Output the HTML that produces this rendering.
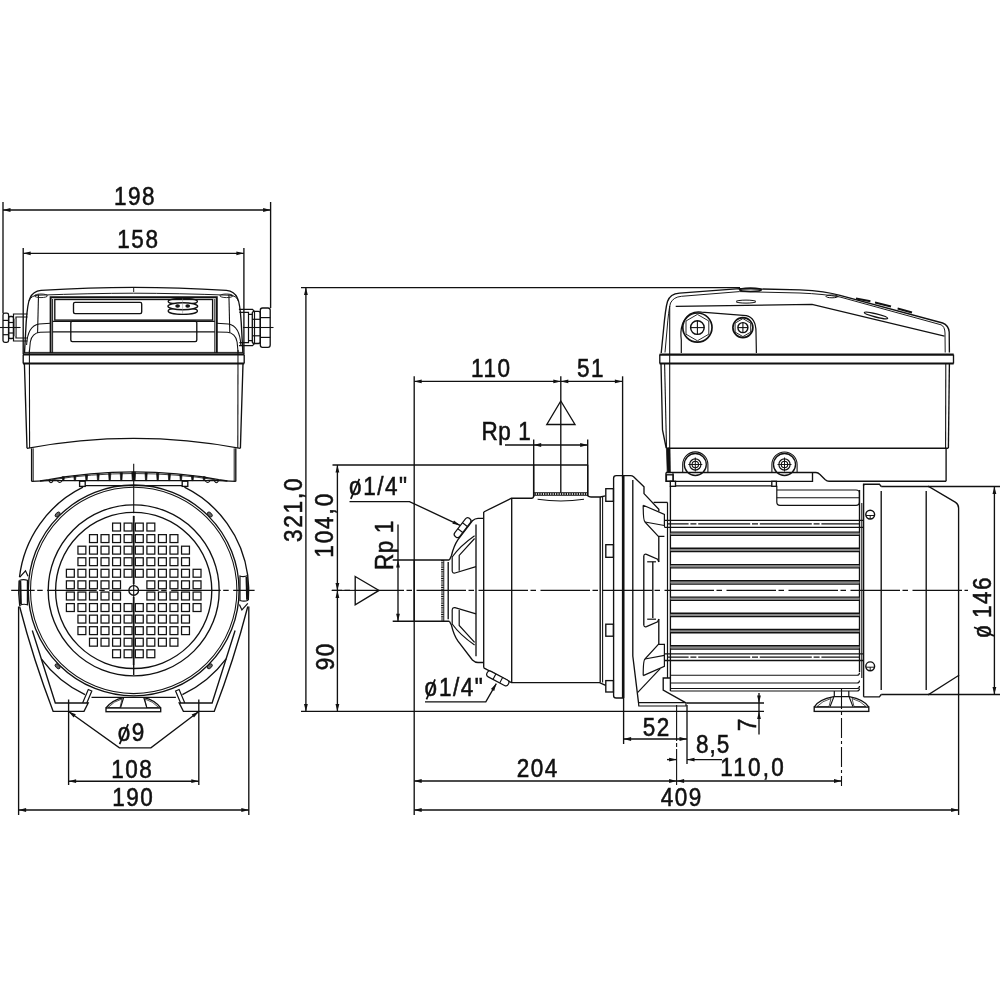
<!DOCTYPE html>
<html><head><meta charset="utf-8"><style>
html,body{margin:0;padding:0;background:#fff;width:1000px;height:1000px;overflow:hidden}
svg{display:block}
text{font-family:"Liberation Sans",sans-serif;fill:#111;stroke:#111;stroke-width:0.55px}
svg{will-change:transform}
</style></head><body>
<svg width="1000" height="1000" viewBox="0 0 1000 1000">
<rect x="0" y="0" width="1000" height="1000" fill="#fff"/>
<g fill="none" stroke="#111" stroke-width="1.35" stroke-linecap="butt">
<line x1="3.0" y1="202.0" x2="3.0" y2="313.2"/>
<line x1="270.6" y1="202.0" x2="270.6" y2="308.0"/>
<line x1="3.0" y1="210.0" x2="270.6" y2="210.0"/>
<path d="M3.0,210.0 L10.5,208.1 L10.5,211.9 Z" fill="#111" stroke="none"/>
<path d="M270.6,210.0 L263.1,211.9 L263.1,208.1 Z" fill="#111" stroke="none"/>
<text x="0.85" y="0" font-size="25" text-anchor="middle" letter-spacing="1.7" transform="translate(134.2 205.2) scale(0.9 1)">198</text>
<line x1="23.2" y1="248.0" x2="23.2" y2="354.0"/>
<line x1="243.9" y1="248.0" x2="243.9" y2="354.0"/>
<line x1="23.2" y1="253.3" x2="243.9" y2="253.3"/>
<path d="M23.2,253.3 L30.7,251.4 L30.7,255.2 Z" fill="#111" stroke="none"/>
<path d="M243.9,253.3 L236.4,255.2 L236.4,251.4 Z" fill="#111" stroke="none"/>
<text x="0.85" y="0" font-size="25" text-anchor="middle" letter-spacing="1.7" transform="translate(137.6 248.0) scale(0.9 1)">158</text>
<path d="M24.5,353 L26.2,322 Q27.5,303 30,298 Q33,291 41,290.3 Q90,287.4 133.7,287.3 Q178,287.4 226.4,290.3 Q234.4,291 237.4,298 Q240,303 241.2,322 L242.9,353"/>
<path d="M29,301 Q31,295.5 38,295.2 Q90,293.3 133.7,293.2 Q178,293.3 229.4,295.2 Q236.4,295.5 238.4,301" stroke-width="0.96"/>
<line x1="133.7" y1="287.3" x2="133.7" y2="292.0" stroke-width="0.96"/>
<ellipse cx="41" cy="295.8" rx="6.5" ry="1.8" stroke-width="0.9"/>
<ellipse cx="226.4" cy="295.8" rx="6.5" ry="1.8" stroke-width="0.9"/>
<path d="M50.6,353 L50.6,297.3 L216.8,297.3 L216.8,353" stroke-width="1.92"/>
<line x1="52.6" y1="299.0" x2="52.6" y2="353.0" stroke-width="0.96"/>
<line x1="214.8" y1="299.0" x2="214.8" y2="353.0" stroke-width="0.96"/>
<rect x="54.8" y="299.5" width="157.8" height="20.6"/>
<rect x="73.5" y="302.4" width="68.2" height="11.2" rx="1.5"/>
<rect x="70.8" y="321.2" width="126.0" height="20.4" rx="1.5"/>
<path d="M38.5,294.5 L37.6,333" stroke-width="1.08"/>
<path d="M26.6,345 Q27.5,326 39,324 L50.6,323.2" stroke-width="1.08"/>
<path d="M29.3,352.5 L30.3,342 Q32,333 40,332.3 L50.6,332" stroke-width="1.08"/>
<line x1="52.6" y1="331.8" x2="214.8" y2="331.8" stroke-width="1.20"/>
<line x1="52.6" y1="321.3" x2="214.8" y2="321.3" stroke-width="1.20"/>
<path d="M228.9,294.5 L229.8,333" stroke-width="1.08"/>
<path d="M240.8,345 Q239.9,326 228.4,324 L216.8,323.2" stroke-width="1.08"/>
<path d="M238.1,352.5 L237.1,342 Q235.4,333 227.4,332.3 L216.8,332" stroke-width="1.08"/>
<ellipse cx="182.8" cy="301.4" rx="14.6" ry="2.9" stroke-width="1.3"/>
<ellipse cx="182.8" cy="311" rx="14.6" ry="3.3" stroke-width="1.3"/>
<ellipse cx="182.8" cy="306.2" rx="14.8" ry="3.5" stroke-width="1.5" fill="#fff"/>
<line x1="182.6" y1="298.5" x2="182.6" y2="314" stroke-width="0.5" stroke="#888"/>
<ellipse cx="177.6" cy="306" rx="1.7" ry="1.1" fill="#111"/>
<ellipse cx="187.7" cy="306" rx="1.7" ry="1.1" fill="#111"/>
<path d="M27.5,314 L13.5,314 L13.5,341 L27.5,341" stroke-width="1.20"/>
<path d="M27.5,317 L16,317 L16,338 L27.5,338" stroke-width="1.20"/>
<rect x="13.6" y="319" width="2.3" height="17" fill="#999" stroke="none"/>
<rect x="3.0" y="313.2" width="5.6" height="29.2" rx="1.8" stroke-width="1.32"/>
<line x1="3.0" y1="320.4" x2="8.6" y2="320.4" stroke-width="1.20"/>
<line x1="3.0" y1="334.7" x2="8.6" y2="334.7" stroke-width="1.20"/>
<rect x="8.6" y="316.5" width="4.9" height="22.0" rx="1.6" stroke-width="1.32"/>
<line x1="8.6" y1="322.5" x2="13.5" y2="322.5" stroke-width="1.20"/>
<line x1="8.6" y1="333.0" x2="13.5" y2="333.0" stroke-width="1.20"/>
<path d="M238.9,309.4 L252.5,309.4 L254.5,311.5 L254.5,343.6 L252.5,345.7 L238.9,345.7" stroke-width="1.20"/>
<path d="M239.4,312.4 L248.5,312.4 L248.5,342.6 L239.4,342.6" stroke-width="1.20"/>
<path d="M248.5,314.3 L252.3,314.3 M248.5,340.7 L252.3,340.7" stroke-width="1.20"/>
<rect x="252.3" y="311.3" width="8.0" height="32.2" rx="2.0" stroke-width="1.32"/>
<line x1="252.3" y1="319.3" x2="260.3" y2="319.3" stroke-width="1.20"/>
<line x1="252.3" y1="335.8" x2="260.3" y2="335.8" stroke-width="1.20"/>
<rect x="260.3" y="308.0" width="9.9" height="39.3" rx="2.2" stroke-width="1.32"/>
<line x1="260.3" y1="317.6" x2="270.2" y2="317.6" stroke-width="1.20"/>
<line x1="260.3" y1="337.4" x2="270.2" y2="337.4" stroke-width="1.20"/>
<line x1="0.0" y1="327.5" x2="20.6" y2="327.5" stroke-width="1.08"/>
<line x1="243.0" y1="327.5" x2="273.5" y2="327.5" stroke-width="1.08"/>
<line x1="23.0" y1="354.4" x2="244.2" y2="354.4" stroke-width="2.28"/>
<line x1="24.5" y1="352.4" x2="243.0" y2="352.4" stroke-width="0.96"/>
<line x1="23.0" y1="363.6" x2="244.2" y2="363.6" stroke-width="2.04"/>
<line x1="23.2" y1="354.4" x2="23.2" y2="363.6"/>
<line x1="244.2" y1="354.4" x2="244.2" y2="363.6"/>
<path d="M24.4,363.6 L27,448.3"/>
<path d="M29.4,350 L29.6,448" stroke-width="1.08"/>
<path d="M243,363.6 L240.4,448.3"/>
<path d="M238,350 L237.8,448" stroke-width="1.08"/>
<path d="M27,448.3 Q133.7,428.4 240.4,448.3"/>
<line x1="31.6" y1="448.3" x2="31.6" y2="481.4"/>
<line x1="33.2" y1="448.3" x2="33.2" y2="481.4" stroke-width="0.96"/>
<line x1="235.8" y1="448.3" x2="235.8" y2="481.4"/>
<line x1="234.2" y1="448.3" x2="234.2" y2="481.4" stroke-width="0.96"/>
<path d="M31.6,481.3 L48.7,480.6 L218.7,480.6 L235.8,481.3"/>
<path d="M40,481 L48.7,479.6 Q90,472 133.7,471.9 Q177.4,472 218.7,479.6 L227.4,481"/>
<path d="M52,479.8 Q90,473.6 133.7,473.5 Q177.4,473.6 215.4,479.8" stroke-width="0.84"/>
<path d="M133.4,472.2 L135.6,472.2 L135.1,480.6 L133.9,480.6 Z" stroke-width="0.72" fill="#111"/>
<path d="M131.8,472.2 L134.0,472.2 L133.5,480.6 L132.3,480.6 Z" stroke-width="0.72" fill="#111"/>
<path d="M145.0,472.7 L147.2,472.7 L146.7,480.6 L145.5,480.6 Z" stroke-width="0.72" fill="#111"/>
<path d="M120.2,472.7 L122.4,472.7 L121.9,480.6 L120.7,480.6 Z" stroke-width="0.72" fill="#111"/>
<path d="M156.6,473.3 L158.8,473.3 L158.3,480.6 L157.1,480.6 Z" stroke-width="0.72" fill="#111"/>
<path d="M108.6,473.3 L110.8,473.3 L110.3,480.6 L109.1,480.6 Z" stroke-width="0.72" fill="#111"/>
<path d="M168.2,474.1 L170.4,474.1 L169.9,480.6 L168.7,480.6 Z" stroke-width="0.72" fill="#111"/>
<path d="M97.0,474.1 L99.2,474.1 L98.7,480.6 L97.5,480.6 Z" stroke-width="0.72" fill="#111"/>
<path d="M179.8,474.9 L182.0,474.9 L181.5,480.6 L180.3,480.6 Z" stroke-width="0.72" fill="#111"/>
<path d="M85.4,474.9 L87.6,474.9 L87.1,480.6 L85.9,480.6 Z" stroke-width="0.72" fill="#111"/>
<path d="M191.4,475.8 L193.6,475.8 L193.1,480.6 L191.9,480.6 Z" stroke-width="0.72" fill="#111"/>
<path d="M73.8,475.8 L76.0,475.8 L75.5,480.6 L74.3,480.6 Z" stroke-width="0.72" fill="#111"/>
<path d="M203.0,476.7 L205.2,476.7 L204.7,480.6 L203.5,480.6 Z" stroke-width="0.72" fill="#111"/>
<path d="M62.2,476.7 L64.4,476.7 L63.9,480.6 L62.7,480.6 Z" stroke-width="0.72" fill="#111"/>
<path d="M49,481 Q51,484.5 53,481" stroke-width="1.08"/>
<path d="M218.4,481 Q216.4,484.5 214.4,481" stroke-width="1.08"/>
<path d="M57.5,481 Q59.7,484 62,481" stroke-width="1.08"/>
<path d="M209.9,481 Q207.7,484 205.4,481" stroke-width="1.08"/>
<rect x="79.6" y="481.2" width="5.6" height="5.2"/>
<rect x="182.2" y="481.2" width="5.6" height="5.2"/>
<line x1="85.2" y1="485.6" x2="182.2" y2="485.6"/>
<circle cx="133.7" cy="590.4" r="105.4"/>
<circle cx="133.7" cy="590.4" r="103.2" stroke-width="1.08"/>
<circle cx="133.7" cy="590.4" r="85.5"/>
<circle cx="133.7" cy="590.4" r="78.1"/>
<circle cx="133.7" cy="590.4" r="4.8"/>
<path d="M83.0,487.2 A115,115 0 0 0 19.5,577.0"/>
<path d="M41.3,658.9 A115,115 0 0 0 85.0,694.6"/>
<path d="M184.4,487.2 A115,115 0 0 1 247.7,575.2"/>
<path d="M226.1,658.9 A115,115 0 0 1 182.4,694.6"/>
<path d="M19.1,580.5 A115,115 0 0 0 19.7,605.5"/>
<path d="M247.7,575.3 A115,115 0 0 1 248.3,600.3"/>
<g transform="rotate(0 133.7 590.4)">
<path d="M19.3,580.5 Q23.3,578.8 27.4,580.3 L27.4,604.8 Q23.3,603.4 19.3,605.6" stroke-width="1.20"/>
<path d="M19.6,577.4 L25.5,570.8 L28,576.2" stroke-width="1.20"/>
<line x1="20.2" y1="581.0" x2="20.8" y2="604.0" stroke-width="2.16"/>
</g>
<g transform="rotate(180 133.7 590.4)">
<path d="M19.3,580.5 Q23.3,578.8 27.4,580.3 L27.4,604.8 Q23.3,603.4 19.3,605.6" stroke-width="1.20"/>
<path d="M19.6,577.4 L25.5,570.8 L28,576.2" stroke-width="1.20"/>
<line x1="20.2" y1="581.0" x2="20.8" y2="604.0" stroke-width="2.16"/>
</g>
<path d="M19.6,606.5 Q33.4,659.9 53.2,711.4 L84.0,711.4 L88.2,703 L55.3,703 L32.3,630.5"/>
<path d="M82.6,703.0 L88.3,689.5 L91.8,691.0 L86.8,703.0" stroke-width="1.20"/>
<path d="M247.8,606.5 Q234.0,659.9 214.2,711.4 L183.4,711.4 L179.2,703 L212.1,703 L235.1,630.5"/>
<path d="M184.8,703.0 L179.1,689.5 L175.6,691.0 L180.6,703.0" stroke-width="1.20"/>
<line x1="91.5" y1="697.4" x2="175.9" y2="697.4"/>
<rect x="106.0" y="708.0" width="54.7" height="3.7"/>
<path d="M106,708 Q112,700 123.5,697.6 M160.7,708 Q155,700 143.9,697.6"/>
<path d="M123.6,697.6 L120.5,707.8 M143.8,697.6 L146.9,707.8" stroke-width="1.20"/>
<path d="M108,707.5 Q114,701 122,699 L120,707.5 Z M158.7,707.5 Q152.7,701 144.7,699 L146.7,707.5 Z" stroke-width="0.72"/>
<ellipse cx="57.6" cy="514.5" rx="3.0" ry="1.8" fill="#666" stroke-width="0.9" transform="rotate(-45 57.6 514.5)"/>
<ellipse cx="209.8" cy="514.5" rx="3.0" ry="1.8" fill="#666" stroke-width="0.9" transform="rotate(45 209.8 514.5)"/>
<ellipse cx="57.6" cy="666.3" rx="3.0" ry="1.8" fill="#666" stroke-width="0.9" transform="rotate(45 57.6 666.3)"/>
<ellipse cx="209.8" cy="666.3" rx="3.0" ry="1.8" fill="#666" stroke-width="0.9" transform="rotate(-45 209.8 666.3)"/>
<rect x="112.60" y="523.10" width="7.90" height="7.90" stroke-width="1.25"/>
<rect x="124.15" y="523.10" width="7.90" height="7.90" stroke-width="1.25"/>
<rect x="135.35" y="523.10" width="7.90" height="7.90" stroke-width="1.25"/>
<rect x="146.90" y="523.10" width="7.90" height="7.90" stroke-width="1.25"/>
<rect x="89.50" y="534.65" width="7.90" height="7.90" stroke-width="1.25"/>
<rect x="101.05" y="534.65" width="7.90" height="7.90" stroke-width="1.25"/>
<rect x="112.60" y="534.65" width="7.90" height="7.90" stroke-width="1.25"/>
<rect x="124.15" y="534.65" width="7.90" height="7.90" stroke-width="1.25"/>
<rect x="135.35" y="534.65" width="7.90" height="7.90" stroke-width="1.25"/>
<rect x="146.90" y="534.65" width="7.90" height="7.90" stroke-width="1.25"/>
<rect x="158.45" y="534.65" width="7.90" height="7.90" stroke-width="1.25"/>
<rect x="170.00" y="534.65" width="7.90" height="7.90" stroke-width="1.25"/>
<rect x="77.95" y="546.20" width="7.90" height="7.90" stroke-width="1.25"/>
<rect x="89.50" y="546.20" width="7.90" height="7.90" stroke-width="1.25"/>
<rect x="101.05" y="546.20" width="7.90" height="7.90" stroke-width="1.25"/>
<rect x="112.60" y="546.20" width="7.90" height="7.90" stroke-width="1.25"/>
<rect x="124.15" y="546.20" width="7.90" height="7.90" stroke-width="1.25"/>
<rect x="135.35" y="546.20" width="7.90" height="7.90" stroke-width="1.25"/>
<rect x="146.90" y="546.20" width="7.90" height="7.90" stroke-width="1.25"/>
<rect x="158.45" y="546.20" width="7.90" height="7.90" stroke-width="1.25"/>
<rect x="170.00" y="546.20" width="7.90" height="7.90" stroke-width="1.25"/>
<rect x="181.55" y="546.20" width="7.90" height="7.90" stroke-width="1.25"/>
<rect x="77.95" y="557.75" width="7.90" height="7.90" stroke-width="1.25"/>
<rect x="89.50" y="557.75" width="7.90" height="7.90" stroke-width="1.25"/>
<rect x="101.05" y="557.75" width="7.90" height="7.90" stroke-width="1.25"/>
<rect x="112.60" y="557.75" width="7.90" height="7.90" stroke-width="1.25"/>
<rect x="124.15" y="557.75" width="7.90" height="7.90" stroke-width="1.25"/>
<rect x="135.35" y="557.75" width="7.90" height="7.90" stroke-width="1.25"/>
<rect x="146.90" y="557.75" width="7.90" height="7.90" stroke-width="1.25"/>
<rect x="158.45" y="557.75" width="7.90" height="7.90" stroke-width="1.25"/>
<rect x="170.00" y="557.75" width="7.90" height="7.90" stroke-width="1.25"/>
<rect x="181.55" y="557.75" width="7.90" height="7.90" stroke-width="1.25"/>
<rect x="66.40" y="569.30" width="7.90" height="7.90" stroke-width="1.25"/>
<rect x="77.95" y="569.30" width="7.90" height="7.90" stroke-width="1.25"/>
<rect x="89.50" y="569.30" width="7.90" height="7.90" stroke-width="1.25"/>
<rect x="101.05" y="569.30" width="7.90" height="7.90" stroke-width="1.25"/>
<rect x="112.60" y="569.30" width="7.90" height="7.90" stroke-width="1.25"/>
<rect x="124.15" y="569.30" width="7.90" height="7.90" stroke-width="1.25"/>
<rect x="135.35" y="569.30" width="7.90" height="7.90" stroke-width="1.25"/>
<rect x="146.90" y="569.30" width="7.90" height="7.90" stroke-width="1.25"/>
<rect x="158.45" y="569.30" width="7.90" height="7.90" stroke-width="1.25"/>
<rect x="170.00" y="569.30" width="7.90" height="7.90" stroke-width="1.25"/>
<rect x="181.55" y="569.30" width="7.90" height="7.90" stroke-width="1.25"/>
<rect x="193.10" y="569.30" width="7.90" height="7.90" stroke-width="1.25"/>
<rect x="66.40" y="580.85" width="7.90" height="7.90" stroke-width="1.25"/>
<rect x="77.95" y="580.85" width="7.90" height="7.90" stroke-width="1.25"/>
<rect x="89.50" y="580.85" width="7.90" height="7.90" stroke-width="1.25"/>
<rect x="101.05" y="580.85" width="7.90" height="7.90" stroke-width="1.25"/>
<rect x="112.60" y="580.85" width="7.90" height="7.90" stroke-width="1.25"/>
<rect x="146.90" y="580.85" width="7.90" height="7.90" stroke-width="1.25"/>
<rect x="158.45" y="580.85" width="7.90" height="7.90" stroke-width="1.25"/>
<rect x="170.00" y="580.85" width="7.90" height="7.90" stroke-width="1.25"/>
<rect x="181.55" y="580.85" width="7.90" height="7.90" stroke-width="1.25"/>
<rect x="193.10" y="580.85" width="7.90" height="7.90" stroke-width="1.25"/>
<rect x="66.40" y="592.05" width="7.90" height="7.90" stroke-width="1.25"/>
<rect x="77.95" y="592.05" width="7.90" height="7.90" stroke-width="1.25"/>
<rect x="89.50" y="592.05" width="7.90" height="7.90" stroke-width="1.25"/>
<rect x="101.05" y="592.05" width="7.90" height="7.90" stroke-width="1.25"/>
<rect x="112.60" y="592.05" width="7.90" height="7.90" stroke-width="1.25"/>
<rect x="146.90" y="592.05" width="7.90" height="7.90" stroke-width="1.25"/>
<rect x="158.45" y="592.05" width="7.90" height="7.90" stroke-width="1.25"/>
<rect x="170.00" y="592.05" width="7.90" height="7.90" stroke-width="1.25"/>
<rect x="181.55" y="592.05" width="7.90" height="7.90" stroke-width="1.25"/>
<rect x="193.10" y="592.05" width="7.90" height="7.90" stroke-width="1.25"/>
<rect x="66.40" y="603.60" width="7.90" height="7.90" stroke-width="1.25"/>
<rect x="77.95" y="603.60" width="7.90" height="7.90" stroke-width="1.25"/>
<rect x="89.50" y="603.60" width="7.90" height="7.90" stroke-width="1.25"/>
<rect x="101.05" y="603.60" width="7.90" height="7.90" stroke-width="1.25"/>
<rect x="112.60" y="603.60" width="7.90" height="7.90" stroke-width="1.25"/>
<rect x="124.15" y="603.60" width="7.90" height="7.90" stroke-width="1.25"/>
<rect x="135.35" y="603.60" width="7.90" height="7.90" stroke-width="1.25"/>
<rect x="146.90" y="603.60" width="7.90" height="7.90" stroke-width="1.25"/>
<rect x="158.45" y="603.60" width="7.90" height="7.90" stroke-width="1.25"/>
<rect x="170.00" y="603.60" width="7.90" height="7.90" stroke-width="1.25"/>
<rect x="181.55" y="603.60" width="7.90" height="7.90" stroke-width="1.25"/>
<rect x="193.10" y="603.60" width="7.90" height="7.90" stroke-width="1.25"/>
<rect x="77.95" y="615.15" width="7.90" height="7.90" stroke-width="1.25"/>
<rect x="89.50" y="615.15" width="7.90" height="7.90" stroke-width="1.25"/>
<rect x="101.05" y="615.15" width="7.90" height="7.90" stroke-width="1.25"/>
<rect x="112.60" y="615.15" width="7.90" height="7.90" stroke-width="1.25"/>
<rect x="124.15" y="615.15" width="7.90" height="7.90" stroke-width="1.25"/>
<rect x="135.35" y="615.15" width="7.90" height="7.90" stroke-width="1.25"/>
<rect x="146.90" y="615.15" width="7.90" height="7.90" stroke-width="1.25"/>
<rect x="158.45" y="615.15" width="7.90" height="7.90" stroke-width="1.25"/>
<rect x="170.00" y="615.15" width="7.90" height="7.90" stroke-width="1.25"/>
<rect x="181.55" y="615.15" width="7.90" height="7.90" stroke-width="1.25"/>
<rect x="77.95" y="626.70" width="7.90" height="7.90" stroke-width="1.25"/>
<rect x="89.50" y="626.70" width="7.90" height="7.90" stroke-width="1.25"/>
<rect x="101.05" y="626.70" width="7.90" height="7.90" stroke-width="1.25"/>
<rect x="112.60" y="626.70" width="7.90" height="7.90" stroke-width="1.25"/>
<rect x="124.15" y="626.70" width="7.90" height="7.90" stroke-width="1.25"/>
<rect x="135.35" y="626.70" width="7.90" height="7.90" stroke-width="1.25"/>
<rect x="146.90" y="626.70" width="7.90" height="7.90" stroke-width="1.25"/>
<rect x="158.45" y="626.70" width="7.90" height="7.90" stroke-width="1.25"/>
<rect x="170.00" y="626.70" width="7.90" height="7.90" stroke-width="1.25"/>
<rect x="181.55" y="626.70" width="7.90" height="7.90" stroke-width="1.25"/>
<rect x="89.50" y="638.25" width="7.90" height="7.90" stroke-width="1.25"/>
<rect x="101.05" y="638.25" width="7.90" height="7.90" stroke-width="1.25"/>
<rect x="112.60" y="638.25" width="7.90" height="7.90" stroke-width="1.25"/>
<rect x="124.15" y="638.25" width="7.90" height="7.90" stroke-width="1.25"/>
<rect x="135.35" y="638.25" width="7.90" height="7.90" stroke-width="1.25"/>
<rect x="146.90" y="638.25" width="7.90" height="7.90" stroke-width="1.25"/>
<rect x="158.45" y="638.25" width="7.90" height="7.90" stroke-width="1.25"/>
<rect x="170.00" y="638.25" width="7.90" height="7.90" stroke-width="1.25"/>
<rect x="112.60" y="649.80" width="7.90" height="7.90" stroke-width="1.25"/>
<rect x="124.15" y="649.80" width="7.90" height="7.90" stroke-width="1.25"/>
<rect x="135.35" y="649.80" width="7.90" height="7.90" stroke-width="1.25"/>
<rect x="146.90" y="649.80" width="7.90" height="7.90" stroke-width="1.25"/>
<line x1="11.2" y1="590.4" x2="254.6" y2="590.4" stroke-width="1.1" stroke-dasharray="49.5 2.5 5.5 4.5" stroke-dashoffset="26"/>
<line x1="133.7" y1="463.7" x2="133.7" y2="522.0" stroke-width="1.1" stroke-dasharray="49.5 2.5 5.5 4.5" stroke-dashoffset="0"/>
<line x1="133.7" y1="516.0" x2="133.7" y2="584.0" stroke-width="1.80"/>
<line x1="133.7" y1="584.0" x2="133.7" y2="597.0" stroke-width="1.08"/>
<line x1="133.7" y1="597.0" x2="133.7" y2="665.0" stroke-width="1.80"/>
<line x1="133.7" y1="665.0" x2="133.7" y2="675.0"/>
<line x1="18.6" y1="606.5" x2="18.6" y2="815.0"/>
<line x1="248.8" y1="606.5" x2="248.8" y2="815.0"/>
<line x1="18.6" y1="810.0" x2="248.8" y2="810.0"/>
<path d="M18.6,810.0 L26.1,808.1 L26.1,811.9 Z" fill="#111" stroke="none"/>
<path d="M248.8,810.0 L241.3,811.9 L241.3,808.1 Z" fill="#111" stroke="none"/>
<text x="0.85" y="0" font-size="25" text-anchor="middle" letter-spacing="1.7" transform="translate(132.5 806.4) scale(0.9 1)">190</text>
<line x1="68.6" y1="699.5" x2="68.6" y2="785.0"/>
<line x1="198.8" y1="699.5" x2="198.8" y2="785.0"/>
<line x1="68.6" y1="781.2" x2="198.8" y2="781.2"/>
<path d="M68.6,781.2 L76.1,779.3 L76.1,783.1 Z" fill="#111" stroke="none"/>
<path d="M198.8,781.2 L191.3,783.1 L191.3,779.3 Z" fill="#111" stroke="none"/>
<text x="0.85" y="0" font-size="25" text-anchor="middle" letter-spacing="1.7" transform="translate(131.5 777.8) scale(0.9 1)">108</text>
<path d="M68.6,711.5 L119.4,747.8 L150.9,747.8 L198.8,711.5"/>
<path d="M68.6,711.5 L75.8,714.3 L73.6,717.4 Z" fill="#111" stroke="none"/>
<path d="M198.8,711.5 L194.0,717.5 L191.7,714.5 Z" fill="#111" stroke="none"/>
<g transform="translate(117.7 740.8)"><text x="0" y="0" font-size="25" transform="scale(0.9 1)">o</text><text x="0" y="0" font-size="25" letter-spacing="1.7" transform="translate(14.1 0) scale(0.9 1)">9</text><line x1="1.9" y1="3.4" x2="10.5" y2="-16.6" stroke-width="1.7"/></g>
<line x1="301.0" y1="287.6" x2="740.0" y2="287.6"/>
<line x1="301.0" y1="711.4" x2="764.0" y2="711.4"/>
<line x1="305.9" y1="287.6" x2="305.9" y2="711.4"/>
<path d="M305.9,287.6 L307.8,295.1 L304.0,295.1 Z" fill="#111" stroke="none"/>
<path d="M305.9,711.4 L304.0,703.9 L307.8,703.9 Z" fill="#111" stroke="none"/>
<text x="1.00" y="0" font-size="25" text-anchor="middle" letter-spacing="2.0" transform="translate(302.4 510.3) rotate(-90) scale(0.9 1)">321,0</text>
<line x1="332.5" y1="465.0" x2="587.7" y2="465.0"/>
<line x1="337.4" y1="465.0" x2="337.4" y2="590.4"/>
<path d="M337.4,465.0 L339.3,472.5 L335.5,472.5 Z" fill="#111" stroke="none"/>
<path d="M337.4,590.4 L335.5,582.9 L339.3,582.9 Z" fill="#111" stroke="none"/>
<line x1="337.4" y1="590.4" x2="337.4" y2="711.4"/>
<path d="M337.4,590.4 L339.3,597.9 L335.5,597.9 Z" fill="#111" stroke="none"/>
<path d="M337.4,711.4 L335.5,703.9 L339.3,703.9 Z" fill="#111" stroke="none"/>
<text x="1.07" y="0" font-size="25" text-anchor="middle" letter-spacing="2.15" transform="translate(333.2 525.8) rotate(-90) scale(0.9 1)">104,0</text>
<text x="0.85" y="0" font-size="25" text-anchor="middle" letter-spacing="1.7" transform="translate(333.6 657.0) rotate(-90) scale(0.9 1)">90</text>
<line x1="331.8" y1="590.4" x2="968.0" y2="590.4" stroke-width="1.1" stroke-dasharray="49.5 2.5 5.5 4.5" stroke-dashoffset="39.3"/>
<line x1="331.8" y1="590.4" x2="355.0" y2="590.4" stroke-width="1.10"/>
<path d="M355.2,576.5 L379.0,590.4 L355.2,604.8 Z"/>
<line x1="392.7" y1="560.0" x2="449.4" y2="560.0"/>
<line x1="392.7" y1="621.2" x2="449.4" y2="621.2"/>
<line x1="398.0" y1="524.5" x2="398.0" y2="621.2"/>
<path d="M398.0,560.0 L399.9,567.5 L396.1,567.5 Z" fill="#111" stroke="none"/>
<path d="M398.0,621.2 L396.1,613.7 L399.9,613.7 Z" fill="#111" stroke="none"/>
<text x="0.33" y="0" font-size="25" text-anchor="middle" letter-spacing="0.65" transform="translate(393.4 545.5) rotate(-90) scale(0.9 1)">Rp 1</text>
<line x1="414.2" y1="376.3" x2="414.2" y2="815.0"/>
<line x1="414.2" y1="381.4" x2="560.8" y2="381.4"/>
<path d="M414.2,381.4 L421.7,379.5 L421.7,383.3 Z" fill="#111" stroke="none"/>
<path d="M560.8,381.4 L553.3,383.3 L553.3,379.5 Z" fill="#111" stroke="none"/>
<line x1="560.8" y1="381.4" x2="622.4" y2="381.4"/>
<path d="M560.8,381.4 L568.3,379.5 L568.3,383.3 Z" fill="#111" stroke="none"/>
<path d="M622.4,381.4 L614.9,383.3 L614.9,379.5 Z" fill="#111" stroke="none"/>
<text x="0.85" y="0" font-size="25" text-anchor="middle" letter-spacing="1.7" transform="translate(490.5 377.0) scale(0.9 1)">110</text>
<text x="0.85" y="0" font-size="25" text-anchor="middle" letter-spacing="1.7" transform="translate(590.2 377.0) scale(0.9 1)">51</text>
<line x1="560.8" y1="376.3" x2="560.8" y2="492.7"/>
<line x1="622.6" y1="376.3" x2="622.6" y2="478.0"/>
<path d="M560.8,401.0 L575.0,424.5 L546.8,424.5 Z"/>
<line x1="505.0" y1="445.0" x2="587.7" y2="445.0"/>
<path d="M533.7,445.0 L541.2,443.1 L541.2,446.9 Z" fill="#111" stroke="none"/>
<path d="M587.7,445.0 L580.2,446.9 L580.2,443.1 Z" fill="#111" stroke="none"/>
<line x1="533.7" y1="439.6" x2="533.7" y2="497.0"/>
<line x1="587.7" y1="439.6" x2="587.7" y2="496.0"/>
<text x="0.00" y="0" font-size="25" text-anchor="start" letter-spacing="0.65" transform="translate(481.5 439.6) scale(0.9 1)">Rp 1</text>
<g transform="translate(348.9 495.4)"><text x="0" y="0" font-size="25" transform="scale(0.9 1)">o</text><text x="0" y="0" font-size="25" letter-spacing="1.7" transform="translate(14.3 0) scale(0.9 1)">1/4"</text><line x1="1.9" y1="3.4" x2="10.5" y2="-16.6" stroke-width="1.7"/></g>
<path d="M349.5,501.6 L409.5,501.6 L460,525.3"/>
<path d="M460.0,525.3 L452.4,523.8 L454.0,520.4 Z" fill="#111" stroke="none"/>
<g transform="translate(424.6 696.0)"><text x="0" y="0" font-size="25" transform="scale(0.9 1)">o</text><text x="0" y="0" font-size="25" letter-spacing="1.7" transform="translate(14.3 0) scale(0.9 1)">1/4"</text><line x1="1.9" y1="3.4" x2="10.5" y2="-16.6" stroke-width="1.7"/></g>
<path d="M425,701.8 L485.8,701.8 L496.3,683.6"/>
<path d="M496.3,683.6 L494.2,691.0 L490.9,689.1 Z" fill="#111" stroke="none"/>
<line x1="623.6" y1="698.0" x2="623.6" y2="744.0"/>
<line x1="687.0" y1="705.0" x2="687.0" y2="764.0"/>
<line x1="623.6" y1="739.0" x2="687.0" y2="739.0"/>
<path d="M623.6,739.0 L631.1,737.1 L631.1,740.9 Z" fill="#111" stroke="none"/>
<path d="M687.0,739.0 L679.5,740.9 L679.5,737.1 Z" fill="#111" stroke="none"/>
<text x="0.85" y="0" font-size="25" text-anchor="middle" letter-spacing="1.7" transform="translate(656.0 735.6) scale(0.9 1)">52</text>
<line x1="667.0" y1="759.6" x2="676.6" y2="759.6"/>
<path d="M676.6,759.6 L669.1,761.5 L669.1,757.7 Z" fill="#111" stroke="none"/>
<line x1="687.0" y1="759.6" x2="722.0" y2="759.6"/>
<path d="M687.0,759.6 L694.5,757.7 L694.5,761.5 Z" fill="#111" stroke="none"/>
<text x="0.55" y="0" font-size="25" text-anchor="middle" letter-spacing="1.1" transform="translate(712.7 753.0) scale(0.9 1)">8,5</text>
<line x1="676.6" y1="705.0" x2="676.6" y2="786.0" stroke-width="1.1" stroke-dasharray="36 2 4 2" stroke-dashoffset="0"/>
<line x1="414.2" y1="781.0" x2="676.6" y2="781.0"/>
<path d="M414.2,781.0 L421.7,779.1 L421.7,782.9 Z" fill="#111" stroke="none"/>
<path d="M676.6,781.0 L669.1,782.9 L669.1,779.1 Z" fill="#111" stroke="none"/>
<line x1="676.6" y1="781.0" x2="841.5" y2="781.0"/>
<path d="M676.6,781.0 L684.1,779.1 L684.1,782.9 Z" fill="#111" stroke="none"/>
<path d="M841.5,781.0 L834.0,782.9 L834.0,779.1 Z" fill="#111" stroke="none"/>
<text x="0.85" y="0" font-size="25" text-anchor="middle" letter-spacing="1.7" transform="translate(537.0 777.0) scale(0.9 1)">204</text>
<text x="1.23" y="0" font-size="25" text-anchor="middle" letter-spacing="2.45" transform="translate(752.0 776.0) scale(0.9 1)">110,0</text>
<line x1="841.5" y1="689.0" x2="841.5" y2="786.0" stroke-width="1.1" stroke-dasharray="20 3 3 3" stroke-dashoffset="0"/>
<line x1="414.2" y1="810.0" x2="958.6" y2="810.0"/>
<path d="M414.2,810.0 L421.7,808.1 L421.7,811.9 Z" fill="#111" stroke="none"/>
<path d="M958.6,810.0 L951.1,811.9 L951.1,808.1 Z" fill="#111" stroke="none"/>
<text x="0.85" y="0" font-size="25" text-anchor="middle" letter-spacing="1.7" transform="translate(681.0 805.6) scale(0.9 1)">409</text>
<line x1="958.6" y1="675.0" x2="958.6" y2="815.0"/>
<line x1="687.0" y1="703.0" x2="764.0" y2="703.0"/>
<line x1="759.0" y1="693.0" x2="759.0" y2="734.4"/>
<path d="M759.0,703.0 L757.1,695.5 L760.9,695.5 Z" fill="#111" stroke="none"/>
<path d="M759.0,711.4 L760.9,718.9 L757.1,718.9 Z" fill="#111" stroke="none"/>
<text x="0.85" y="0" font-size="25" text-anchor="middle" letter-spacing="1.7" transform="translate(756.0 725.0) rotate(-90) scale(0.9 1)">7</text>
<line x1="928.0" y1="486.5" x2="1000.0" y2="486.5"/>
<line x1="928.0" y1="694.5" x2="1000.0" y2="694.5"/>
<line x1="994.4" y1="486.5" x2="994.4" y2="694.5"/>
<path d="M994.4,486.5 L996.3,494.0 L992.5,494.0 Z" fill="#111" stroke="none"/>
<path d="M994.4,694.5 L992.5,687.0 L996.3,687.0 Z" fill="#111" stroke="none"/>
<g transform="translate(990.6 637.8) rotate(-90)"><text x="0" y="0" font-size="25" transform="scale(0.9 1)">o</text><text x="0" y="0" font-size="25" letter-spacing="1.7" transform="translate(19.7 0) scale(0.9 1)">146</text><line x1="1.9" y1="3.4" x2="10.5" y2="-16.6" stroke-width="1.7"/></g>
<path d="M661.2,353 L663.5,330 Q665.5,308 667.5,301.5 Q670,294 679.5,293.2 L739.5,288.6 L800,289.8 Q826,291.2 840,295.3 L942.6,323 Q948.6,325.4 949.2,332 L949.4,352.5"/>
<path d="M665,352.5 L667,330 Q668.5,310 670.5,303 Q673.5,297 681.5,296.3 L739.5,291.6 L800,293 Q824,294 840,297 L941,324.8 Q944.8,326.4 945,333 L945.2,352.5" stroke-width="0.96"/>
<line x1="669.7" y1="306.0" x2="669.7" y2="448.0" stroke-width="1.08"/>
<path d="M675.7,306.3 L812,304.4 L944.5,336.2" stroke-width="1.20"/>
<ellipse cx="750.5" cy="289.8" rx="11" ry="1.7" stroke-width="1.6"/>
<ellipse cx="746" cy="301.6" rx="10" ry="1.5" stroke-width="1.0"/>
<ellipse cx="832" cy="296.4" rx="6" ry="1.4" stroke-width="1.0"/>
<ellipse cx="876" cy="315.4" rx="12" ry="1.6" stroke-width="1.4" transform="rotate(14 876 315.4)"/>
<path d="M856,298.6 L870.4,301.2 M875,302.6 L891,306.6 M897.6,308.6 L912,312.6" stroke-width="2.04"/>
<path d="M681.3,353 L681.3,340 Q679,322 690,314 Q696,311 701.6,312.2 L746.4,315.6 Q756,318 756,332 L756.4,353" stroke-width="1.20"/>
<circle cx="697.4" cy="327.6" r="14.6" stroke-width="1.68"/>
<polygon points="697.4,340.8 686.0,334.2 686.0,321.0 697.4,314.4 708.8,321.0 708.8,334.2" stroke-width="0.9"/>
<circle cx="697.4" cy="327.6" r="6.8" stroke-width="1.44"/>
<line x1="690.6" y1="327.6" x2="704.2" y2="327.6" stroke-width="1.08"/>
<line x1="697.4" y1="320.8" x2="697.4" y2="334.4" stroke-width="1.08"/>
<circle cx="742.9" cy="327.6" r="10.0" stroke-width="1.68"/>
<polygon points="742.9,336.6 735.1,332.1 735.1,323.1 742.9,318.6 750.7,323.1 750.7,332.1" stroke-width="0.9"/>
<circle cx="742.9" cy="327.6" r="5.0" stroke-width="1.44"/>
<line x1="737.9" y1="327.6" x2="747.9" y2="327.6" stroke-width="1.08"/>
<line x1="742.9" y1="322.6" x2="742.9" y2="332.6" stroke-width="1.08"/>
<line x1="659.6" y1="354.6" x2="953.7" y2="354.6" stroke-width="2.28"/>
<line x1="659.6" y1="363.5" x2="953.7" y2="363.5" stroke-width="2.04"/>
<line x1="659.8" y1="354.6" x2="659.8" y2="363.5"/>
<line x1="953.5" y1="354.6" x2="953.5" y2="363.5"/>
<path d="M661,363.5 L662.5,430 L666.2,448"/>
<path d="M664.6,363.5 L666.5,448" stroke-width="1.08"/>
<path d="M949.4,363.4 L948.4,448"/>
<line x1="945.8" y1="363.4" x2="945.6" y2="448.0" stroke-width="1.08"/>
<line x1="667.4" y1="448.2" x2="948.4" y2="448.2"/>
<line x1="946.1" y1="448.2" x2="946.1" y2="481.2"/>
<path d="M666.4,448 L667.2,472.5 L670.4,472.5 L670,448 Z" stroke-width="0.72" fill="#111"/>
<path d="M682.7,472.5 L682.7,464.5 A12.6,12.6 0 0 1 707.9,464.5 L707.9,472.5" stroke-width="1.08"/>
<circle cx="695.3" cy="464.5" r="11.0" stroke-width="1.32"/>
<circle cx="695.3" cy="464.5" r="5.6" stroke-width="1.20"/>
<circle cx="695.3" cy="464.5" r="3.2" stroke-width="1.08"/>
<line x1="688.3" y1="464.5" x2="702.3" y2="464.5" stroke-width="0.96"/>
<line x1="695.3" y1="457.5" x2="695.3" y2="471.5" stroke-width="0.96"/>
<path d="M771.9,472.5 L771.9,464.5 A12.6,12.6 0 0 1 797.1,464.5 L797.1,472.5" stroke-width="1.08"/>
<circle cx="784.5" cy="464.5" r="11.0" stroke-width="1.32"/>
<circle cx="784.5" cy="464.5" r="5.6" stroke-width="1.20"/>
<circle cx="784.5" cy="464.5" r="3.2" stroke-width="1.08"/>
<line x1="777.5" y1="464.5" x2="791.5" y2="464.5" stroke-width="0.96"/>
<line x1="784.5" y1="457.5" x2="784.5" y2="471.5" stroke-width="0.96"/>
<path d="M666,472.5 L816,472.5 Q818,472.5 820,474.5 L825,479.5 Q827,481.2 829,481.2 L946.1,481.2"/>
<path d="M666,472.5 L666,481.3 L812.5,481.3 L812.5,472.5"/>
<line x1="673.0" y1="472.5" x2="673.0" y2="481.3" stroke-width="1.08"/>
<rect x="670.3" y="481.3" width="5.2" height="5.0"/>
<rect x="771.8" y="481.3" width="4.6" height="5.0"/>
<line x1="675.5" y1="485.8" x2="771.8" y2="485.8"/>
<path d="M776.8,485.8 L776.8,502 Q776.8,505.4 780,505.4 L856,505.4 Q859.4,505.4 859.4,502 L859.4,493 Q859.4,490 856,490 L776.8,490" stroke-width="1.20"/>
<line x1="776.8" y1="497.7" x2="859.4" y2="497.7" stroke-width="1.08"/>
<line x1="670.4" y1="486.3" x2="670.4" y2="691.0"/>
<line x1="859.5" y1="490.0" x2="859.5" y2="672.0"/>
<path d="M670.4,675.25 L857,675.25 Q859.5,675.25 859.5,672.75" stroke-width="1.20"/>
<path d="M670.4,683.0 L857,683.0 Q859.5,683.0 859.5,680.5" stroke-width="1.20"/>
<path d="M670.4,688.5 L857,688.5 Q859.5,688.5 859.5,686.0" stroke-width="1.20"/>
<path d="M670.4,691.0 L857,691.0 Q859.5,691.0 859.5,688.5" stroke-width="1.20"/>
<line x1="664.5" y1="520.4" x2="863.6" y2="520.4" stroke-width="1.26"/>
<line x1="664.5" y1="527.3" x2="863.6" y2="527.3" stroke-width="1.26"/>
<line x1="664.5" y1="520.4" x2="664.5" y2="527.3" stroke-width="1.08"/>
<line x1="668" y1="523.9" x2="860" y2="523.9" stroke-width="1.2" stroke-dasharray="52 1.8 6 1.8" stroke-dashoffset="31.4"/>
<line x1="664.5" y1="653.9" x2="863.6" y2="653.9" stroke-width="1.26"/>
<line x1="664.5" y1="660.5" x2="863.6" y2="660.5" stroke-width="1.26"/>
<line x1="664.5" y1="653.9" x2="664.5" y2="660.5" stroke-width="1.08"/>
<line x1="668" y1="657.2" x2="860" y2="657.2" stroke-width="1.2" stroke-dasharray="52 1.8 6 1.8" stroke-dashoffset="31.4"/>
<line x1="670.4" y1="533.75" x2="859.5" y2="533.75" stroke="#8a8a8a" stroke-width="2.2"/>
<line x1="670.4" y1="532.1" x2="859.5" y2="532.1" stroke-width="1.44"/>
<line x1="670.4" y1="535.4" x2="859.5" y2="535.4" stroke-width="1.44"/>
<line x1="670.4" y1="549.99" x2="859.5" y2="549.99" stroke="#8a8a8a" stroke-width="2.2"/>
<line x1="670.4" y1="548.3" x2="859.5" y2="548.3" stroke-width="1.44"/>
<line x1="670.4" y1="551.6" x2="859.5" y2="551.6" stroke-width="1.44"/>
<line x1="670.4" y1="566.23" x2="859.5" y2="566.23" stroke="#8a8a8a" stroke-width="2.2"/>
<line x1="670.4" y1="564.6" x2="859.5" y2="564.6" stroke-width="1.44"/>
<line x1="670.4" y1="567.9" x2="859.5" y2="567.9" stroke-width="1.44"/>
<line x1="670.4" y1="582.47" x2="859.5" y2="582.47" stroke="#8a8a8a" stroke-width="2.2"/>
<line x1="670.4" y1="580.8" x2="859.5" y2="580.8" stroke-width="1.44"/>
<line x1="670.4" y1="584.1" x2="859.5" y2="584.1" stroke-width="1.44"/>
<line x1="670.4" y1="598.71" x2="859.5" y2="598.71" stroke="#8a8a8a" stroke-width="2.2"/>
<line x1="670.4" y1="597.1" x2="859.5" y2="597.1" stroke-width="1.44"/>
<line x1="670.4" y1="600.4" x2="859.5" y2="600.4" stroke-width="1.44"/>
<line x1="670.4" y1="614.95" x2="859.5" y2="614.95" stroke="#8a8a8a" stroke-width="2.2"/>
<line x1="670.4" y1="613.3" x2="859.5" y2="613.3" stroke-width="1.44"/>
<line x1="670.4" y1="616.6" x2="859.5" y2="616.6" stroke-width="1.44"/>
<line x1="670.4" y1="631.19" x2="859.5" y2="631.19" stroke="#8a8a8a" stroke-width="2.2"/>
<line x1="670.4" y1="629.5" x2="859.5" y2="629.5" stroke-width="1.44"/>
<line x1="670.4" y1="632.8" x2="859.5" y2="632.8" stroke-width="1.44"/>
<line x1="670.4" y1="647.43" x2="859.5" y2="647.43" stroke="#8a8a8a" stroke-width="2.2"/>
<line x1="670.4" y1="645.8" x2="859.5" y2="645.8" stroke-width="1.44"/>
<line x1="670.4" y1="649.1" x2="859.5" y2="649.1" stroke-width="1.44"/>
<path d="M863.6,486 L863.6,484.2 L879.4,484.2 L881.2,486.5"/>
<line x1="863.6" y1="484.2" x2="863.6" y2="696.8"/>
<path d="M863.6,696.8 L879.4,696.8 L881.2,694.5"/>
<line x1="861.8" y1="503.0" x2="861.8" y2="678.0" stroke-width="1.08"/>
<line x1="881.2" y1="491.0" x2="881.2" y2="690.0"/>
<circle cx="870.2" cy="514.6" r="4.4" stroke-width="1.44"/>
<line x1="866.0" y1="515.5" x2="874.4" y2="515.5" stroke-width="0.96"/>
<line x1="870.2" y1="515.5" x2="870.2" y2="519.0" stroke-width="0.96"/>
<circle cx="870.2" cy="666.3" r="4.4" stroke-width="1.44"/>
<line x1="866.0" y1="667.2" x2="874.4" y2="667.2" stroke-width="0.96"/>
<line x1="870.2" y1="667.2" x2="870.2" y2="670.7" stroke-width="0.96"/>
<path d="M881.2,486.5 L928.6,486.5 L955.6,502.4 Q958.6,504.5 958.6,508 L958.6,675.5 L928.6,694.5 L881.2,694.5"/>
<line x1="926.2" y1="491.0" x2="926.2" y2="690.0"/>
<path d="M834.3,691 L834.3,697 M848.8,691 L848.8,697" stroke-width="1.20"/>
<path d="M814.2,707.1 Q818,699.6 833.8,696.6 L849.2,696.6 Q864.5,699.6 868.8,707.1"/>
<rect x="814.2" y="707.1" width="54.6" height="4.3"/>
<path d="M833.8,697 L830,706.8 M849.2,697 L853,706.8" stroke-width="1.08"/>
<path d="M817,706.5 Q822,701 831,698.5 L829,706.5 Z M866,706.5 Q861,701 852,698.5 L854,706.5 Z" stroke-width="0.72"/>
<line x1="414.2" y1="560.0" x2="414.2" y2="621.2"/>
<line x1="442.4" y1="560" x2="442.4" y2="621.2" stroke-width="2.6" stroke-dasharray="1 0.8"/>
<line x1="443.8" y1="560.0" x2="443.8" y2="621.2" stroke-width="0.84"/>
<line x1="448.2" y1="562.0" x2="448.2" y2="619.2"/>
<path d="M449.4,560 L451.5,555.5 C453,549 455,544 458,539.6 L472.4,520.8 Q475,518.3 478,518.3 L483.7,518.3"/>
<path d="M449.4,621.2 L451.5,625.3 C453,631.8 455,636.8 458,641.2 L472.4,660 Q475,662.5 478,662.5 L483.7,662.5"/>
<line x1="483.7" y1="512.0" x2="483.7" y2="667.8"/>
<line x1="476.0" y1="524.5" x2="476.0" y2="656.3"/>
<path d="M474.6,535.8 Q460,546 452.2,557 L452.2,571 Q452.5,573.5 455,573 L476,566.6" stroke-width="1.20"/>
<path d="M474.6,538.5 L459.2,555.4 L459.2,570.8" stroke-width="1.20"/>
<path d="M474.6,645 Q460,635 452.2,624 L452.2,610 Q452.5,607.3 455,607.6 L476,613.8" stroke-width="1.20"/>
<path d="M474.6,642.3 L459.2,625.4 L459.2,610" stroke-width="1.20"/>
<path d="M483.7,512 L511.4,498.2 L531.4,498.2 Q533.6,498.2 533.6,496 L533.6,464.8"/>
<path d="M587.7,464.8 L587.7,495.7 Q589,497 591,497 L600.2,497 L605.4,495.8"/>
<path d="M483.7,667.8 L511.4,682.6 L599.6,682.6 L605.6,685.4"/>
<line x1="511.7" y1="498.8" x2="511.7" y2="682.6"/>
<g transform="rotate(-52.5 462.6 527.6)"><rect x="451.1" y="524.5" width="23" height="6.2" rx="2.8" stroke-width="1.2" fill="#fff"/><line x1="458.8" y1="524.5" x2="458.8" y2="530.7" stroke-width="1.1"/><line x1="466.4" y1="524.5" x2="466.4" y2="530.7" stroke-width="1.1"/></g>
<g transform="rotate(27.8 497.8 678.4)"><rect x="485.8" y="675.3" width="24" height="6.2" rx="2.8" stroke-width="1.2" fill="#fff"/><line x1="494.0" y1="675.3" x2="494.0" y2="681.5" stroke-width="1.1"/><line x1="501.6" y1="675.3" x2="501.6" y2="681.5" stroke-width="1.1"/></g>
<line x1="600.2" y1="497.0" x2="600.2" y2="682.6"/>
<line x1="602.6" y1="497.0" x2="602.6" y2="682.6" stroke-width="1.08"/>
<line x1="533.7" y1="492.7" x2="587.7" y2="492.7" stroke-width="0.96"/>
<line x1="533.7" y1="495.3" x2="587.7" y2="495.3" stroke-width="0.96"/>
<line x1="534.5" y1="494" x2="587.2" y2="494" stroke-width="2.2" stroke-dasharray="1.3 1.1"/>
<path d="M537.6,499.2 Q560.8,502.8 584,499.2" stroke-width="1.08"/>
<rect x="605.8" y="488.7" width="7.6" height="12.6"/>
<rect x="605.8" y="544.7" width="7.6" height="12.6"/>
<rect x="605.8" y="624.2" width="7.6" height="12.0"/>
<rect x="605.8" y="680.6" width="7.6" height="11.4"/>
<path d="M613.6,494 L613.6,478.2 Q613.6,475.6 616.2,475.6 L630.6,475.6 Q632.2,475.6 633.6,476.8 L644,486.8 L644,493.6 L658.8,509.2 L658.8,511.6"/>
<path d="M613.6,494 L613.6,695.4 Q613.6,698 616.2,698 L623.2,698"/>
<line x1="623.2" y1="475.6" x2="623.2" y2="698.0" stroke-width="2.64"/>
<line x1="632.8" y1="480.0" x2="632.8" y2="656.0"/>
<path d="M643.2,505.2 L664.4,514.4 L664.4,525.2 M643.2,505.2 Q643.2,521 645,522 L658.4,536.4 L664.4,536.4" stroke-width="1.20"/>
<path d="M645,522 L664.4,525.5" stroke-width="1.20"/>
<path d="M643.2,675.6 L664.4,666.4 L664.4,644.4 L658.4,644.4 L645,659 Q643.2,660 643.2,675.6" stroke-width="1.20"/>
<path d="M645,659 L664.4,655.3" stroke-width="1.20"/>
<line x1="643.8" y1="556.0" x2="643.8" y2="625.0"/>
<line x1="652.8" y1="561.8" x2="652.8" y2="618.0"/>
<line x1="658.8" y1="536.4" x2="658.8" y2="562.0"/>
<path d="M643.8,556 Q644,553.6 646.5,554.4 L657.6,559.2 L658.8,562" stroke-width="1.20"/>
<line x1="647.2" y1="561.8" x2="656.0" y2="561.8" stroke-width="1.20"/>
<path d="M643.8,625 Q644,627.4 646.5,626.6 L657.6,621.8 L658.8,619" stroke-width="1.20"/>
<line x1="647.2" y1="619.2" x2="656.0" y2="619.2" stroke-width="1.20"/>
<line x1="658.8" y1="619.0" x2="658.8" y2="644.4"/>
<path d="M653.6,502.4 L667.5,502.4"/>
<line x1="667.5" y1="502.4" x2="667.5" y2="678.0" stroke-width="1.20"/>
<path d="M632.8,656 L638.5,702.6 L685.5,702.6 L663.2,690 L663.2,678 L670.4,678"/>
<path d="M638.5,702.6 L638.8,706 L686,706 L686,702.6" stroke-width="1.20"/>
<path d="M637.8,692.4 L660.2,668.6" stroke-width="1.20"/>
<rect x="666.4" y="474.8" width="6.8" height="6.4"/>
</g>
</svg>
</body></html>
